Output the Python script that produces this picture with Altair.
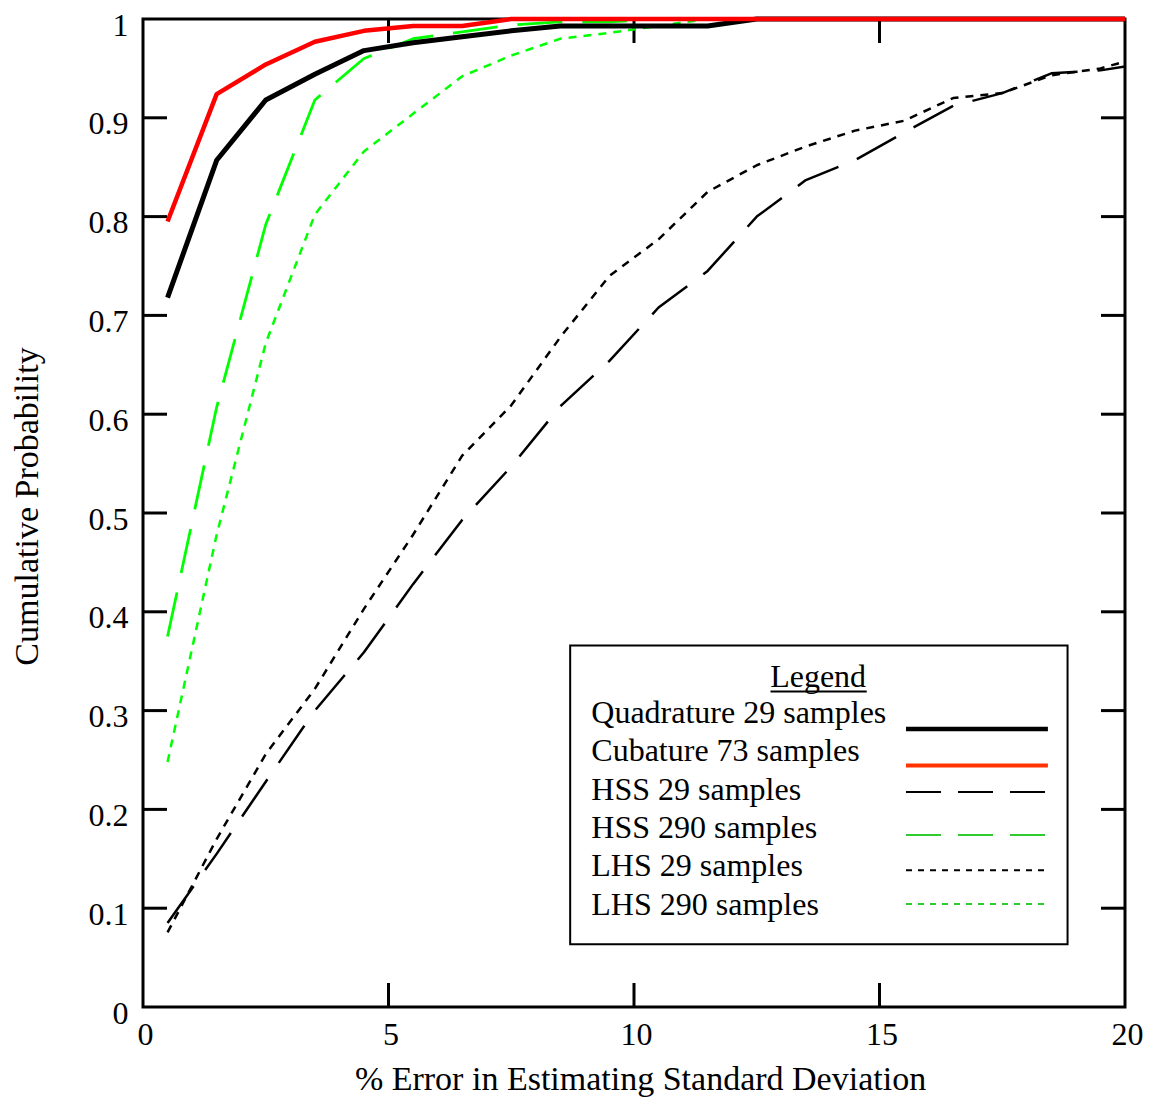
import altair as alt
import pandas as pd

# ---------------- data ----------------
x_vals = [0.5, 1.5, 2.5, 3.5, 4.5, 5.5, 6.5, 7.5, 8.5, 9.5, 10.5,
          11.5, 12.5, 13.5, 14.5, 15.5, 16.5, 17.5, 18.5, 19.5, 20.0]

quad29 = [0.718, 0.857, 0.918, 0.944, 0.968, 0.976, 0.982, 0.988, 0.993, 0.993, 0.993,
          0.993, 1.0, 1.0, 1.0, 1.0, 1.0, 1.0, 1.0, 1.0, 1.0]
cub73 = [0.795, 0.924, 0.954, 0.977, 0.988, 0.993, 0.993, 1.0, 1.0, 1.0, 1.0,
         1.0, 1.0, 1.0, 1.0, 1.0, 1.0, 1.0, 1.0, 1.0, 1.0]
hss29 = [0.085, 0.155, 0.228, 0.300, 0.359, 0.428, 0.493, 0.547, 0.608, 0.654, 0.708,
         0.745, 0.800, 0.837, 0.857, 0.885, 0.912, 0.925, 0.945, 0.948, 0.952]
hss290 = [0.375, 0.607, 0.792, 0.918, 0.960, 0.980, 0.987, 0.994, 0.997, 0.997, 1.0,
          1.0, 1.0, 1.0, 1.0, 1.0, 1.0, 1.0, 1.0, 1.0, 1.0]
lhs29 = [0.0755, 0.170, 0.256, 0.322, 0.403, 0.478, 0.558, 0.609, 0.678, 0.740, 0.777,
         0.825, 0.852, 0.871, 0.887, 0.897, 0.920, 0.925, 0.943, 0.950, 0.957]
lhs290 = [0.248, 0.478, 0.672, 0.802, 0.866, 0.904, 0.942, 0.963, 0.980, 0.986, 0.993,
          1.0, 1.0, 1.0, 1.0, 1.0, 1.0, 1.0, 1.0, 1.0, 1.0]

series_names = ["Quadrature 29 samples", "Cubature 73 samples", "HSS 29 samples",
                "HSS 290 samples", "LHS 29 samples", "LHS 290 samples"]
series_values = [quad29, cub73, hss29, hss290, lhs29, lhs290]

x_tick_values = [0, 5, 10, 15, 20]
y_tick_values = [0, 0.1, 0.2, 0.3, 0.4, 0.5, 0.6, 0.7, 0.8, 0.9, 1]
x_inner_ticks = [5, 10, 15]
y_inner_ticks = [0.1, 0.2, 0.3, 0.4, 0.5, 0.6, 0.7, 0.8, 0.9]

x_title = "% Error in Estimating Standard Deviation"
y_title = "Cumulative Probability"

# legend layout (in data units of the plot)
legend_box = {"x": 8.70, "x2": 18.83, "y": 0.3659, "y2": 0.0634}
legend_heading = "Legend"
legend_heading_pos = {"x": 13.75, "y": 0.3239}
legend_underline = {"x": 12.78, "x2": 14.74, "y": 0.3194}
legend_text_x = 9.13
legend_text_y = [0.2870, 0.2492, 0.2100, 0.1713, 0.1328, 0.0936]
legend_line_y = [0.2814, 0.2445, 0.2176, 0.1740, 0.1385, 0.1043]
legend_line_x = [15.54, 18.43]

# ---------------- styles ----------------
plot_colors = ["#000000", "#ff0000", "#000000", "#00ff00", "#000000", "#00ff00"]
legend_colors = ["#000000", "#ff3300", "#000000", "#2ecc2e", "#000000", "#2ecc2e"]
plot_dash = [None, None, [45, 20], [45, 20], [8, 7], [8, 7]]
legend_dash = [None, None, [35, 17], [35, 17], [6, 6], [6, 6]]
plot_width = [5, 4.5, 2.5, 2.8, 2.5, 2.5]
legend_width = [4.5, 4, 2, 2, 2, 2]

W, H = 982, 988
FONT = "Liberation Serif"

xs = alt.Scale(domain=[0, 20], nice=False, zero=False)
ys = alt.Scale(domain=[0, 1], nice=False, zero=False)

x_axis = alt.Axis(values=x_tick_values, format="~g", title=x_title, ticks=False,
                  domain=False, grid=False, labelFont=FONT, labelFontSize=32,
                  labelColor="black", labelPadding=12, labelOffset=2, labelFlush=False,
                  titleFont=FONT, titleFontSize=34, titleFontWeight="normal",
                  titleColor="black", titleBaseline="alphabetic", titleY=82, titleX=497)
y_axis = alt.Axis(values=y_tick_values, format="~g", title=y_title, ticks=False,
                  domain=False, grid=False, labelFont=FONT, labelFontSize=32,
                  labelColor="black", labelPadding=15, labelOffset=6, labelFlush=False,
                  titleFont=FONT, titleFontSize=34, titleFontWeight="normal",
                  titleColor="black", titleBaseline="alphabetic", titleAngle=270,
                  titleX=-106, titleY=487)


def X(field):
    return alt.X(field, type="quantitative", scale=xs, axis=x_axis)


def Y(field):
    return alt.Y(field, type="quantitative", scale=ys, axis=y_axis)


layers = []

# inward ticks
yt = pd.DataFrame({"v": y_inner_ticks})
xt = pd.DataFrame({"v": x_inner_ticks})
layers.append(alt.Chart(yt).mark_rule(color="black", strokeWidth=3).encode(
    y=Y("v"), x=alt.value(0), x2=alt.value(24)))
layers.append(alt.Chart(yt).mark_rule(color="black", strokeWidth=3).encode(
    y=Y("v"), x=alt.value(W - 24), x2=alt.value(W)))
layers.append(alt.Chart(xt).mark_rule(color="black", strokeWidth=3).encode(
    x=X("v"), y=alt.value(0), y2=alt.value(24)))
layers.append(alt.Chart(xt).mark_rule(color="black", strokeWidth=3).encode(
    x=X("v"), y=alt.value(H - 24), y2=alt.value(H)))

# data lines (dashed/dotted first, solid on top)
order = [2, 4, 3, 5, 0, 1]
for i in order:
    df = pd.DataFrame({"x": x_vals, "y": series_values[i]})
    kw = dict(color=plot_colors[i], strokeWidth=plot_width[i], strokeCap="butt",
              strokeJoin="round")
    if plot_dash[i] is not None:
        kw["strokeDash"] = plot_dash[i]
    layers.append(alt.Chart(df).mark_line(**kw).encode(x=X("x"), y=Y("y")))

# legend box
box_df = pd.DataFrame([legend_box])
layers.append(alt.Chart(box_df).mark_rect(fill="white", stroke="black", strokeWidth=2).encode(
    x=X("x"), x2="x2:Q", y=Y("y"), y2="y2:Q"))

# legend heading + underline
head_df = pd.DataFrame([{"x": legend_heading_pos["x"], "y": legend_heading_pos["y"],
                         "t": legend_heading}])
layers.append(alt.Chart(head_df).mark_text(font=FONT, fontSize=32, align="center",
                                           baseline="alphabetic", color="black").encode(
    x=X("x"), y=Y("y"), text="t:N"))
ul_df = pd.DataFrame([legend_underline])
layers.append(alt.Chart(ul_df).mark_rule(color="black", strokeWidth=2).encode(
    x=X("x"), x2="x2:Q", y=Y("y")))

# legend labels
lab_df = pd.DataFrame({"x": [legend_text_x] * len(series_names), "y": legend_text_y,
                       "t": series_names})
layers.append(alt.Chart(lab_df).mark_text(font=FONT, fontSize=32, align="left",
                                          baseline="alphabetic", color="black").encode(
    x=X("x"), y=Y("y"), text="t:N"))

# legend samples
for i in range(len(series_names)):
    sdf = pd.DataFrame({"x": [legend_line_x[0]], "x2": [legend_line_x[1]],
                        "y": [legend_line_y[i]]})
    kw = dict(color=legend_colors[i], strokeWidth=legend_width[i], strokeCap="butt")
    if legend_dash[i] is not None:
        kw["strokeDash"] = legend_dash[i]
    layers.append(alt.Chart(sdf).mark_rule(**kw).encode(
        x=X("x"), x2="x2:Q", y=Y("y")))

chart = alt.layer(*layers).properties(
    width=W, height=H,
    autosize=alt.AutoSizeParams(type="none"),
    padding={"left": 135, "top": 11, "right": 19, "bottom": 90},
    background="white",
).configure_view(stroke="black", strokeWidth=3)

chart.save("out.html", embed_options={"renderer": "svg", "actions": False})
